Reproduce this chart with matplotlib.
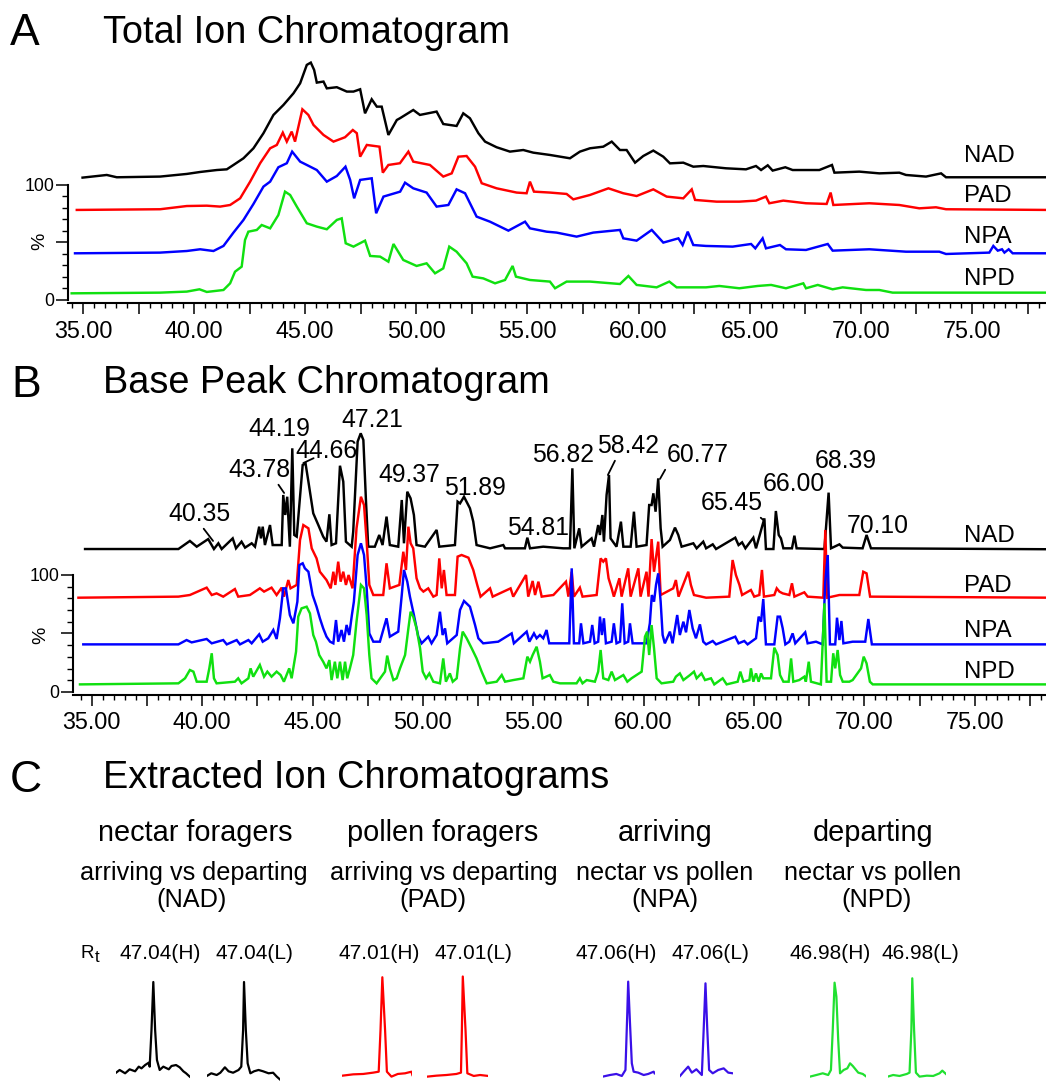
import matplotlib
matplotlib.use('Agg')
import matplotlib.pyplot as plt
from matplotlib.ticker import MultipleLocator, FixedLocator, FuncFormatter

plt.rcParams['font.family'] = ['Liberation Sans', 'DejaVu Sans']

W, H = 1046, 1085
fig = plt.figure(figsize=(W / 100, H / 100), dpi=100)


def fx(x):
    return x / W


def fy(y):
    return 1 - y / H


# ---------------- DATA ----------------
series_names = ['NAD', 'PAD', 'NPA', 'NPD']
x_tick_labels = ['35.00', '40.00', '45.00', '50.00', '55.00', '60.00', '65.00', '70.00', '75.00']

# Total ion chromatogram (time [min], relative intensity incl. stacking offset [%])
tic_nad = [(34.98, 106.4), (36.07, 108.7), (36.52, 106.7), (38.47, 107.3), (39.67, 109.6), (40.27, 111.3),
           (41.02, 113.0), (41.47, 113.6), (41.77, 117.4), (42.22, 123.2), (42.67, 131.9), (43.12, 145.0),
           (43.57, 160.9), (44.02, 169.6), (44.47, 179.7), (44.77, 188.4), (45.07, 204.4), (45.25, 206.4),
           (45.40, 200.0), (45.52, 189.0), (45.82, 189.9), (45.97, 184.0), (46.42, 185.0), (46.87, 181.2),
           (47.17, 181.2), (47.47, 183.2), (47.69, 162.3), (47.99, 174.5), (48.22, 168.1), (48.44, 168.1),
           (48.74, 143.5), (49.12, 156.5), (49.26, 158.0), (49.86, 165.2), (50.16, 160.9), (50.91, 163.8),
           (51.21, 153.0), (51.81, 151.3), (52.11, 162.3), (52.41, 158.0), (52.79, 145.0), (53.09, 137.7),
           (53.61, 132.8), (54.21, 129.0), (54.81, 130.4), (55.26, 128.1), (56.01, 126.1), (56.91, 123.2),
           (57.36, 129.0), (57.81, 131.9), (58.41, 133.3), (58.79, 137.7), (59.16, 130.4), (59.46, 130.4),
           (59.84, 119.4), (60.21, 125.2), (60.66, 129.9), (61.11, 124.6), (61.41, 118.8), (62.01, 119.4),
           (62.46, 115.9), (62.91, 116.5), (63.93, 114.5), (64.83, 113.6), (65.28, 116.5), (65.51, 113.0),
           (65.81, 117.1), (66.03, 112.5), (66.60, 115.4), (66.93, 113.0), (68.13, 113.0), (68.70, 117.4),
           (68.81, 110.7), (69.93, 111.6), (70.83, 110.1), (71.73, 110.7), (72.03, 108.7), (72.93, 107.3),
           (73.61, 110.1), (73.83, 106.7), (78.40, 106.7)]
tic_pad = [(34.72, 78.3), (38.47, 78.9), (39.67, 81.7), (40.57, 82.0), (41.17, 81.2), (41.62, 82.6),
           (42.07, 88.4), (42.52, 102.9), (42.97, 118.9), (43.42, 131.9), (43.72, 134.8), (43.99, 145.5),
           (44.17, 137.7), (44.39, 146.4), (44.54, 137.7), (44.87, 165.8), (45.14, 160.9), (45.37, 152.2),
           (45.82, 143.5), (46.27, 137.7), (46.79, 141.5), (47.14, 147.8), (47.32, 145.0), (47.47, 124.6),
           (47.77, 134.8), (48.34, 133.3), (48.49, 110.7), (48.74, 117.4), (49.26, 118.9), (49.64, 129.0),
           (49.86, 120.3), (50.61, 117.4), (51.21, 107.3), (51.59, 110.1), (51.89, 124.6), (52.26, 125.2),
           (52.64, 115.9), (52.94, 101.5), (53.61, 97.1), (54.51, 93.4), (54.96, 92.8), (55.11, 102.9),
           (55.29, 94.2), (56.01, 93.4), (56.76, 92.2), (57.06, 87.5), (57.81, 91.3), (58.64, 97.1),
           (59.31, 92.8), (59.91, 90.4), (60.66, 96.2), (61.26, 89.9), (62.01, 88.4), (62.39, 96.2),
           (62.54, 87.0), (63.51, 85.5), (64.53, 85.5), (65.28, 86.4), (65.73, 89.9), (65.88, 84.1),
           (66.51, 86.4), (67.53, 84.1), (68.46, 83.5), (68.64, 93.4), (68.76, 82.6), (70.38, 84.1),
           (71.73, 82.6), (72.63, 79.7), (73.38, 80.6), (73.83, 78.9), (78.40, 78.3)]
tic_npa = [(34.64, 40.6), (38.47, 41.2), (39.67, 42.6), (40.27, 44.1), (40.87, 42.6), (41.32, 47.0),
           (41.77, 58.6), (42.22, 69.6), (42.67, 83.5), (43.12, 98.6), (43.42, 102.9), (43.79, 115.4),
           (44.17, 118.9), (44.41, 129.0), (44.77, 120.3), (45.07, 117.4), (45.52, 113.0), (45.97, 102.9),
           (46.42, 107.8), (46.81, 115.9), (47.02, 104.4), (47.20, 88.4), (47.47, 104.4), (47.99, 105.8),
           (48.19, 75.4), (48.52, 89.9), (49.27, 94.2), (49.49, 102.0), (49.86, 97.1), (50.46, 93.4),
           (50.91, 81.2), (51.44, 82.6), (51.81, 96.2), (52.19, 92.8), (52.71, 72.5), (53.31, 68.1),
           (54.14, 60.3), (54.89, 68.1), (55.11, 62.3), (55.86, 59.4), (56.31, 58.6), (57.21, 55.1),
           (57.96, 58.6), (59.16, 60.9), (59.31, 53.6), (59.91, 51.6), (60.59, 60.9), (61.11, 49.9),
           (61.79, 53.6), (61.98, 47.8), (62.21, 59.4), (62.46, 47.8), (63.03, 47.0), (64.23, 46.4),
           (65.06, 48.7), (65.25, 44.9), (65.58, 53.6), (65.73, 44.9), (66.36, 47.8), (66.63, 44.1),
           (67.53, 43.5), (68.51, 48.7), (68.73, 42.9), (70.38, 44.1), (72.03, 42.0), (73.53, 42.0),
           (73.83, 40.0), (75.78, 41.2), (75.96, 47.0), (76.16, 42.9), (76.35, 44.1), (76.46, 41.2),
           (76.65, 44.1), (76.83, 40.6), (78.40, 40.6)]
tic_npd = [(34.49, 5.8), (38.47, 6.4), (39.67, 7.3), (40.24, 9.3), (40.57, 7.0), (41.32, 8.7),
           (41.62, 14.5), (41.84, 24.6), (42.14, 29.0), (42.29, 52.2), (42.44, 59.4), (42.82, 60.9),
           (43.04, 65.2), (43.42, 62.3), (43.79, 73.9), (44.09, 94.2), (44.32, 91.3), (44.62, 81.2),
           (45.07, 66.7), (45.52, 63.8), (45.97, 61.5), (46.42, 69.6), (46.64, 71.0), (46.82, 49.3),
           (47.17, 46.4), (47.69, 51.6), (47.92, 38.3), (48.37, 37.7), (48.74, 33.3), (48.97, 48.7),
           (49.41, 34.8), (50.01, 29.6), (50.46, 31.9), (50.84, 23.2), (51.21, 27.5), (51.48, 46.4),
           (51.81, 42.0), (52.26, 31.9), (52.53, 20.3), (53.01, 18.8), (53.54, 14.5), (53.99, 17.4),
           (54.33, 29.6), (54.48, 20.3), (55.11, 17.4), (56.01, 16.0), (56.24, 10.2), (56.76, 16.0),
           (57.81, 16.0), (59.16, 13.9), (59.54, 20.9), (59.91, 13.1), (60.81, 11.0), (61.38, 16.0),
           (61.71, 11.0), (63.03, 11.0), (63.63, 12.2), (64.53, 10.2), (65.36, 12.2), (65.96, 13.1),
           (66.63, 10.2), (67.41, 14.5), (67.53, 10.2), (68.06, 13.1), (68.73, 9.3), (69.18, 11.0),
           (70.23, 8.7), (70.83, 8.7), (71.43, 6.4), (78.40, 6.4)]

# Base peak chromatogram
bpc_nad = [(34.69, 122.2), (38.92, 122.2), (39.44, 129.1), (39.75, 124.2), (40.27, 130.7), (40.53, 122.2),
           (40.73, 127.1), (40.88, 122.2), (41.38, 131.3), (41.53, 122.8), (41.78, 128.5), (41.94, 123.4),
           (42.24, 127.1), (42.39, 124.2), (42.58, 141.3), (42.66, 131.3), (42.74, 141.3), (42.84, 125.6),
           (43.07, 142.7), (43.19, 125.6), (43.60, 125.6), (43.67, 168.4), (43.76, 151.3), (43.85, 166.9),
           (43.97, 124.2), (44.08, 208.3), (44.17, 134.2), (44.28, 132.8), (44.55, 194.0), (44.68, 195.4),
           (44.81, 179.8), (45.03, 152.7), (45.26, 142.7), (45.48, 132.8), (45.63, 128.5), (45.76, 151.9),
           (45.86, 125.6), (46.06, 127.1), (46.24, 193.4), (46.39, 179.8), (46.51, 128.5), (46.77, 124.2),
           (46.84, 137.0), (47.04, 214.0), (47.18, 221.1), (47.30, 215.4), (47.42, 162.7), (47.52, 124.2),
           (47.82, 124.2), (48.02, 134.2), (48.17, 125.6), (48.35, 149.9), (48.50, 125.6), (48.88, 124.2),
           (49.04, 164.1), (49.14, 127.1), (49.29, 171.2), (49.44, 165.5), (49.59, 151.3), (49.71, 125.6),
           (50.09, 124.2), (50.62, 138.5), (50.74, 124.2), (51.45, 125.6), (51.57, 162.7), (51.68, 161.2),
           (51.86, 166.9), (52.13, 157.0), (52.28, 145.6), (52.43, 125.6), (53.04, 122.8), (53.64, 125.6),
           (53.72, 122.8), (54.62, 122.8), (54.73, 131.9), (54.85, 122.8), (55.45, 124.2), (56.36, 122.8),
           (56.66, 122.8), (56.77, 191.2), (56.86, 122.8), (57.08, 139.9), (57.19, 124.2), (57.64, 131.3),
           (57.75, 124.2), (57.94, 142.7), (58.02, 134.2), (58.13, 151.3), (58.20, 128.5), (58.32, 168.4),
           (58.43, 185.5), (58.50, 131.3), (58.77, 124.2), (58.97, 145.6), (59.08, 124.2), (59.41, 124.2),
           (59.56, 154.1), (59.68, 124.2), (60.13, 125.6), (60.25, 159.8), (60.36, 159.8), (60.44, 169.8),
           (60.54, 154.1), (60.66, 182.6), (60.77, 139.9), (60.86, 124.2), (61.19, 129.9), (61.42, 140.5),
           (61.57, 134.2), (61.72, 124.2), (62.25, 127.1), (62.40, 122.8), (62.70, 128.5), (62.83, 122.8),
           (63.13, 126.2), (63.28, 122.2), (64.15, 131.9), (64.30, 125.6), (64.46, 127.9), (64.61, 122.8),
           (64.97, 131.9), (65.09, 122.8), (65.47, 148.4), (65.54, 122.2), (65.88, 122.2), (65.99, 154.7),
           (66.12, 134.2), (66.22, 131.3), (66.33, 122.8), (66.72, 122.8), (66.83, 133.6), (66.93, 122.8),
           (68.19, 122.2), (68.38, 170.4), (68.49, 122.8), (68.87, 126.2), (69.02, 123.4), (69.92, 122.8),
           (70.10, 134.2), (70.30, 122.8), (78.50, 122.0)]
bpc_pad = [(34.39, 80.6), (38.92, 81.5), (39.44, 82.9), (40.20, 89.2), (40.43, 82.9), (40.65, 84.3),
           (40.95, 81.5), (41.48, 88.0), (41.63, 81.5), (42.16, 82.9), (42.61, 88.6), (42.80, 85.8),
           (43.14, 89.2), (43.37, 82.9), (43.60, 89.2), (43.70, 81.5), (43.90, 95.7), (44.00, 88.6),
           (44.28, 91.5), (44.43, 129.9), (44.58, 142.7), (44.81, 139.9), (44.96, 122.8), (45.18, 114.2),
           (45.33, 102.8), (45.63, 95.7), (45.82, 88.6), (45.94, 102.8), (46.03, 91.5), (46.16, 111.4),
           (46.27, 94.3), (46.39, 102.8), (46.51, 91.5), (46.63, 100.0), (46.81, 88.6), (46.99, 139.9),
           (47.19, 166.9), (47.33, 159.8), (47.45, 128.5), (47.57, 91.5), (47.75, 82.9), (48.20, 82.9),
           (48.35, 110.0), (48.50, 88.6), (48.93, 91.5), (49.11, 119.9), (49.23, 104.3), (49.34, 141.3),
           (49.44, 127.1), (49.56, 122.8), (49.71, 97.2), (49.87, 88.6), (50.02, 85.8), (50.24, 88.6),
           (50.47, 81.5), (50.62, 82.9), (50.74, 114.2), (50.85, 88.6), (50.95, 104.3), (51.07, 82.9),
           (51.45, 82.9), (51.57, 115.7), (51.75, 117.1), (52.06, 114.8), (52.28, 104.3), (52.46, 91.5),
           (52.61, 81.5), (53.04, 88.6), (53.16, 81.5), (53.97, 88.6), (54.09, 81.5), (54.67, 100.0),
           (54.77, 81.5), (54.97, 94.9), (55.08, 82.9), (55.23, 94.3), (55.38, 81.5), (55.91, 82.9),
           (56.48, 94.3), (56.59, 81.5), (56.74, 102.8), (56.84, 81.5), (57.11, 89.2), (57.23, 81.5),
           (57.87, 82.9), (58.05, 114.2), (58.17, 111.4), (58.29, 114.2), (58.41, 97.2), (58.55, 88.6),
           (58.65, 81.5), (58.90, 97.2), (59.00, 81.5), (59.30, 105.7), (59.41, 81.5), (59.76, 105.7),
           (59.86, 81.5), (60.13, 102.8), (60.22, 81.5), (60.36, 130.7), (60.47, 102.8), (60.66, 128.5),
           (60.77, 82.9), (61.34, 88.6), (61.46, 95.7), (61.58, 81.5), (62.02, 102.8), (62.14, 91.5),
           (62.28, 82.9), (62.83, 80.6), (63.88, 81.5), (64.03, 112.8), (64.18, 100.0), (64.34, 91.5),
           (64.46, 82.9), (64.86, 87.2), (65.01, 81.5), (65.24, 82.9), (65.36, 104.3), (65.45, 81.5),
           (65.92, 82.9), (66.03, 88.6), (66.15, 85.8), (66.30, 84.3), (66.60, 82.9), (66.72, 92.9),
           (66.83, 81.5), (67.28, 85.2), (67.43, 81.5), (68.14, 80.6), (68.23, 138.5), (68.32, 80.6),
           (68.87, 82.9), (69.77, 82.9), (69.95, 102.8), (70.10, 101.4), (70.26, 81.5), (78.50, 80.6)]
bpc_npa = [(34.61, 40.7), (38.92, 40.7), (39.29, 44.4), (39.52, 42.4), (40.20, 45.3), (40.43, 41.6),
           (40.95, 44.4), (41.11, 40.7), (41.56, 44.4), (41.71, 40.7), (42.09, 44.4), (42.24, 41.6),
           (42.58, 49.3), (42.74, 43.0), (42.99, 45.9), (43.22, 53.0), (43.37, 45.3), (43.52, 63.0),
           (43.67, 88.6), (43.79, 88.6), (43.97, 65.8), (44.13, 58.7), (44.31, 77.2), (44.40, 108.5),
           (44.55, 110.0), (44.65, 105.7), (44.81, 102.8), (45.00, 82.9), (45.18, 72.9), (45.33, 63.0),
           (45.48, 54.4), (45.63, 47.3), (45.79, 43.0), (45.94, 41.6), (46.06, 61.5), (46.16, 43.0),
           (46.31, 53.0), (46.42, 43.0), (46.54, 57.3), (46.66, 48.7), (46.78, 65.8), (46.87, 77.2),
           (47.04, 117.1), (47.19, 127.1), (47.33, 117.1), (47.45, 88.6), (47.57, 50.1), (47.75, 43.0),
           (48.05, 43.0), (48.35, 63.0), (48.50, 47.3), (48.88, 51.6), (49.04, 82.9), (49.14, 104.3),
           (49.29, 94.3), (49.41, 81.5), (49.59, 65.8), (49.79, 47.3), (49.94, 41.6), (50.24, 47.3),
           (50.39, 41.6), (50.62, 48.7), (50.77, 68.6), (50.89, 48.7), (51.00, 54.4), (51.10, 41.6),
           (51.53, 48.7), (51.68, 70.1), (51.86, 77.8), (52.13, 72.9), (52.36, 57.3), (52.51, 45.9),
           (52.73, 41.6), (53.41, 43.0), (54.02, 50.1), (54.12, 41.6), (54.70, 51.6), (54.82, 43.0),
           (55.03, 50.1), (55.15, 45.9), (55.30, 48.7), (55.45, 45.9), (55.60, 53.0), (55.72, 41.6),
           (56.63, 41.6), (56.74, 105.7), (56.84, 41.6), (57.08, 41.6), (57.16, 58.7), (57.27, 41.6),
           (57.57, 43.0), (57.67, 57.3), (57.78, 41.6), (57.94, 43.0), (58.02, 64.4), (58.11, 48.7),
           (58.20, 63.0), (58.29, 41.6), (58.55, 43.0), (58.65, 58.7), (58.77, 41.6), (58.93, 43.0),
           (59.03, 75.8), (59.14, 41.6), (59.30, 43.0), (59.38, 58.7), (59.50, 41.6), (60.13, 41.6),
           (60.28, 58.7), (60.37, 82.9), (60.47, 77.2), (60.56, 91.5), (60.66, 101.4), (60.77, 77.2),
           (60.86, 48.7), (60.96, 41.6), (61.19, 51.6), (61.31, 41.6), (61.52, 65.8), (61.64, 48.7),
           (61.80, 60.1), (61.92, 51.0), (62.07, 70.1), (62.22, 54.4), (62.37, 45.9), (62.55, 57.8),
           (62.70, 43.0), (62.83, 40.7), (63.13, 43.6), (63.28, 40.7), (64.15, 47.3), (64.30, 41.6),
           (64.56, 43.6), (64.71, 40.7), (65.09, 45.9), (65.21, 64.4), (65.32, 60.1), (65.42, 79.5),
           (65.54, 40.7), (65.92, 40.7), (66.07, 64.4), (66.18, 64.4), (66.30, 54.4), (66.42, 40.7),
           (66.60, 43.0), (66.75, 50.1), (66.87, 41.6), (67.32, 51.0), (67.43, 41.6), (67.81, 43.0),
           (68.11, 40.7), (68.23, 94.3), (68.34, 117.1), (68.44, 40.7), (68.68, 40.7), (68.76, 63.5),
           (68.87, 44.4), (68.96, 60.7), (69.05, 41.6), (69.47, 43.0), (70.04, 43.0), (70.18, 62.4),
           (70.34, 40.7), (78.50, 40.7)]
bpc_npd = [(34.46, 6.5), (38.92, 7.4), (39.22, 11.7), (39.44, 18.8), (39.60, 17.4), (39.75, 8.8),
           (40.20, 8.8), (40.32, 20.2), (40.43, 33.1), (40.53, 11.7), (40.65, 7.4), (41.48, 8.8),
           (41.63, 11.7), (41.78, 7.4), (42.09, 11.7), (42.19, 20.2), (42.31, 13.1), (42.61, 23.1),
           (42.80, 13.1), (42.95, 17.4), (43.14, 13.1), (43.37, 17.4), (43.55, 14.5), (43.70, 8.8),
           (43.94, 20.2), (44.05, 11.7), (44.25, 34.5), (44.35, 64.4), (44.50, 71.5), (44.73, 72.9),
           (44.88, 67.2), (45.03, 48.7), (45.15, 43.0), (45.30, 31.6), (45.48, 25.9), (45.63, 20.2),
           (45.76, 27.3), (45.86, 10.2), (46.01, 25.9), (46.12, 11.7), (46.24, 25.9), (46.36, 10.2),
           (46.47, 25.9), (46.57, 11.7), (46.69, 20.2), (46.84, 31.6), (46.99, 60.1), (47.19, 91.5),
           (47.33, 88.6), (47.45, 65.8), (47.57, 31.6), (47.67, 11.7), (47.90, 7.4), (48.28, 17.4),
           (48.38, 31.1), (48.50, 20.2), (48.66, 10.2), (48.81, 11.7), (48.96, 20.2), (49.19, 31.6),
           (49.34, 54.4), (49.44, 68.6), (49.56, 64.4), (49.71, 54.4), (49.87, 37.3), (49.99, 17.4),
           (50.14, 11.7), (50.29, 15.9), (50.47, 8.8), (50.77, 7.4), (50.92, 28.7), (51.04, 8.8),
           (51.22, 15.9), (51.35, 8.8), (51.53, 11.7), (51.68, 37.3), (51.80, 51.6), (51.98, 45.9),
           (52.21, 37.3), (52.43, 28.7), (52.66, 17.4), (52.89, 7.4), (53.34, 8.8), (53.57, 14.5),
           (53.72, 8.8), (54.09, 10.2), (54.55, 11.7), (54.73, 30.2), (54.85, 25.9), (54.97, 31.6),
           (55.15, 38.7), (55.30, 25.9), (55.42, 11.7), (55.75, 14.5), (55.91, 8.8), (56.21, 7.4),
           (56.96, 7.4), (57.11, 11.7), (57.23, 7.4), (57.42, 10.2), (57.79, 8.8), (57.94, 17.4),
           (58.05, 35.9), (58.17, 11.7), (58.40, 10.2), (58.55, 17.4), (58.70, 10.2), (59.08, 14.5),
           (59.26, 8.8), (59.45, 11.7), (59.91, 17.4), (60.06, 47.3), (60.16, 51.6), (60.25, 31.6),
           (60.36, 57.2), (60.47, 37.3), (60.59, 11.7), (60.81, 7.4), (61.34, 8.8), (61.46, 13.1),
           (61.64, 15.9), (61.80, 10.2), (62.10, 14.5), (62.28, 17.4), (62.40, 11.7), (62.62, 15.9),
           (62.78, 10.2), (63.05, 11.7), (63.20, 6.5), (63.58, 11.7), (63.76, 6.5), (64.26, 8.8),
           (64.38, 17.4), (64.52, 8.8), (64.79, 10.2), (64.86, 20.2), (64.97, 8.8), (65.09, 15.9),
           (65.21, 8.8), (65.32, 15.9), (65.42, 11.7), (65.77, 11.7), (65.92, 37.9), (66.07, 31.6),
           (66.18, 14.5), (66.33, 8.8), (66.57, 8.8), (66.68, 28.7), (66.78, 8.8), (67.05, 10.2),
           (67.28, 13.1), (67.35, 8.8), (67.48, 25.9), (67.58, 8.8), (68.03, 6.5), (68.19, 75.8),
           (68.29, 8.8), (68.49, 8.8), (68.59, 33.1), (68.68, 20.2), (68.79, 35.9), (68.90, 14.5),
           (69.02, 8.8), (69.32, 8.8), (69.47, 10.2), (69.85, 20.2), (69.97, 30.2), (70.10, 24.5),
           (70.25, 8.8), (70.38, 6.5), (78.50, 6.5)]

# Labelled base peaks
bpc_peak_labels = ['40.35', '43.78', '44.19', '44.66', '47.21', '49.37', '51.89', '54.81',
                   '56.82', '58.42', '60.77', '65.45', '66.00', '68.39', '70.10']

# Extracted ion chromatograms: headings, retention times and (time, relative intensity)
xic_groups = ['nectar foragers', 'pollen foragers', 'arriving', 'departing']
xic_compare = ['arriving vs departing', 'arriving vs departing', 'nectar vs pollen', 'nectar vs pollen']
xic_codes = ['(NAD)', '(PAD)', '(NPA)', '(NPD)']
xic_rt_labels = ['47.04(H)', '47.04(L)', '47.01(H)', '47.01(L)', '47.06(H)', '47.06(L)', '46.98(H)', '46.98(L)']

xic_nad_h = [(46.63, 4.5), (46.67, 7.4), (46.73, 3.9), (46.78, 8.1), (46.84, 6.0), (46.88, 10.9), (46.91, 9.1),
             (46.95, 12.6), (46.99, 15.1), (47.00, 10.9), (47.02, 49.5), (47.04, 100.0), (47.06, 49.5),
             (47.08, 17.9), (47.11, 7.4), (47.15, 10.9), (47.21, 8.1), (47.24, 11.6), (47.29, 12.6),
             (47.33, 10.2), (47.37, 6.0), (47.40, 3.9), (47.44, 0.4)]
xic_nad_l = [(46.63, 1.0), (46.68, 3.9), (46.74, 2.1), (46.78, 4.5), (46.83, 10.2), (46.87, 6.0), (46.92, 4.5),
             (46.98, 7.4), (47.01, 10.9), (47.03, 49.5), (47.04, 100.0), (47.06, 49.5), (47.08, 14.4),
             (47.11, 3.9), (47.15, 6.0), (47.20, 7.4), (47.25, 6.0), (47.31, 3.9), (47.36, 4.5),
             (47.40, 0.4), (47.44, -3.0)]
xic_pad_h = [(46.57, 1.4), (46.69, 2.8), (46.80, 3.2), (46.91, 4.6), (46.97, 5.6), (46.99, 49.5), (47.01, 105.0),
             (47.04, 49.5), (47.06, 5.6), (47.11, 0.4), (47.18, 3.2), (47.26, 3.9), (47.33, 5.6), (47.34, 2.1)]
xic_pad_l = [(46.62, 0.4), (46.72, 1.4), (46.83, 2.1), (46.94, 3.2), (46.99, 4.6), (47.00, 49.5), (47.01, 105.8),
             (47.04, 49.5), (47.06, 3.9), (47.13, 1.1), (47.20, 2.1), (47.29, 1.1)]
xic_npa_h = [(46.78, 0.4), (46.86, 2.1), (46.93, 3.2), (46.99, 1.1), (47.03, 7.4), (47.05, 67.0), (47.06, 100.4),
             (47.08, 56.5), (47.10, 14.4), (47.12, 5.6), (47.17, 4.6), (47.23, 2.1), (47.28, 3.2),
             (47.34, 5.6), (47.35, 3.9)]
xic_npa_l = [(46.78, 1.1), (46.82, 5.6), (46.87, 10.9), (46.91, 4.6), (46.96, 8.1), (47.02, 2.1), (47.04, 49.5),
             (47.06, 98.6), (47.08, 49.5), (47.10, 7.4), (47.14, 3.9), (47.20, 7.4), (47.26, 9.1),
             (47.31, 4.6), (47.36, 3.9)]
xic_npd_h = [(46.71, 0.4), (46.78, 2.1), (46.85, 3.9), (46.91, 2.1), (46.94, 7.4), (46.96, 49.5), (46.98, 99.3),
             (47.00, 84.6), (47.02, 39.0), (47.04, 3.9), (47.08, 7.4), (47.12, 9.1), (47.15, 14.4),
             (47.18, 11.6), (47.24, 4.6), (47.29, 3.2), (47.33, 0.4)]
xic_npd_l = [(46.71, 0.4), (46.77, 2.1), (46.84, 1.1), (46.92, 3.2), (46.95, 4.6), (46.97, 49.5), (46.98, 103.9),
             (47.00, 49.5), (47.02, 4.6), (47.06, 0.4), (47.14, 1.4), (47.21, 1.1), (47.28, 3.9),
             (47.31, 6.7), (47.35, 3.2)]

# ---------------- STYLE ----------------
colors = {'NAD': '#000000', 'PAD': '#ff0000', 'NPA': '#0000ff', 'NPD': '#10e010'}
xic_colors = ['#000000', '#ff0000', '#3a10e8', '#20e030']
LW = 1.75


def unzip(pairs):
    return [p[0] for p in pairs], [p[1] for p in pairs]


def fmt_x(v, pos):
    if abs(v / 5 - round(v / 5)) < 1e-6:
        lab = f'{v:.2f}'
        return lab if lab in x_tick_labels else ''
    return ''


def style_chrom_axis(ax, xlim, ylim):
    ax.set_xlim(*xlim)
    ax.set_ylim(*ylim)
    ax.patch.set_visible(False)
    for s in ['top', 'right']:
        ax.spines[s].set_visible(False)
    ax.spines['left'].set_bounds(0, 100)
    ax.spines['left'].set_linewidth(1.5)
    ax.spines['bottom'].set_linewidth(1.5)
    ax.xaxis.set_major_locator(MultipleLocator(2.5))
    ax.xaxis.set_minor_locator(MultipleLocator(0.5))
    ax.xaxis.set_major_formatter(FuncFormatter(fmt_x))
    ax.yaxis.set_major_locator(FixedLocator([0, 50, 100]))
    ax.yaxis.set_minor_locator(FixedLocator([10, 20, 30, 40, 60, 70, 80, 90]))
    ax.yaxis.set_major_formatter(FuncFormatter(lambda v, p: {0: '0', 100: '100'}.get(int(round(v)), '')))
    ax.tick_params(axis='x', which='major', length=8, width=1.1, labelsize=16.8, pad=4)
    ax.tick_params(axis='x', which='minor', length=3.8, width=1.0)
    ax.tick_params(axis='y', which='major', length=8.5, width=1.1, labelsize=12.8, pad=1.5)
    ax.tick_params(axis='y', which='minor', length=4.3, width=1.0)


# ---------------- PANEL A ----------------
axA = fig.add_axes([fx(68), fy(303), 1 - fx(68), (303 - 55) / H])
for name, data in zip(series_names, [tic_nad, tic_pad, tic_npa, tic_npd]):
    t, v = unzip(data)
    axA.plot(t, v, color=colors[name], lw=LW, solid_joinstyle='miter')
style_chrom_axis(axA, (34.325, 78.33), (-2.61, 213.0))

# ---------------- PANEL B ----------------
axB = fig.add_axes([fx(73), fy(694.5), 1 - fx(73), (694.5 - 400) / H])
for name, data in zip(series_names, [bpc_nad, bpc_pad, bpc_npa, bpc_npd]):
    t, v = unzip(data)
    axB.plot(t, v, color=colors[name], lw=LW, solid_joinstyle='miter')
style_chrom_axis(axB, (34.144, 78.23), (-2.14, 249.57))

# annotation layout for the labelled peaks: text position (t, baseline) and optional leader
ann_text_pos = [(39.86, 146.2), (42.57, 183.8), (43.48, 218.8), (45.61, 200.0), (47.69, 226.5),
                (49.37, 179.5), (52.36, 168.4), (55.21, 134.2), (56.35, 196.6), (59.29, 204.3),
                (62.46, 196.6), (63.99, 155.6), (66.80, 171.8), (69.16, 191.5), (70.61, 135.9)]
ann_leaders = {'40.35': ((40.49, 129.1), 0.48), '43.78': ((43.71, 170.1), 0.73),
               '44.66': ((44.58, 195.7), 0.30), '58.42': ((58.38, 185.5), 0.35),
               '60.77': ((60.74, 182.1), 0.04), '65.45': ((65.47, 146.2), 0.83)}
for lab, (tx, ty) in zip(bpc_peak_labels, ann_text_pos):
    if lab in ann_leaders:
        (ex, ey), rx = ann_leaders[lab]
        axB.annotate(lab, xy=(ex, ey), xytext=(tx, ty), ha='center', va='baseline', fontsize=17.8,
                     annotation_clip=False,
                     arrowprops=dict(arrowstyle='-', lw=1.3, color='black', shrinkA=0, shrinkB=0,
                                     relpos=(rx, 0.2)))
    else:
        axB.text(tx, ty, lab, ha='center', va='baseline', fontsize=17.8)

# trace labels & axis titles
trace_lab_A = [162, 202, 243, 285]
trace_lab_B = [542, 592, 637, 678]
for name, ya, yb in zip(series_names, trace_lab_A, trace_lab_B):
    fig.text(fx(964), fy(ya), name, fontsize=17.3, ha='left', va='baseline')
    fig.text(fx(964), fy(yb), name, fontsize=17.3, ha='left', va='baseline')
fig.text(fx(40), fy(241), '%', rotation=90, fontsize=14, ha='center', va='center')
fig.text(fx(41), fy(635), '%', rotation=90, fontsize=14, ha='center', va='center')

fig.text(fx(10), fy(45), 'A', fontsize=32, ha='left', va='baseline')
fig.text(fx(103), fy(43), 'Total Ion Chromatogram', fontsize=27.3, ha='left', va='baseline')
fig.text(fx(11), fy(397), 'B', fontsize=32, ha='left', va='baseline')
fig.text(fx(103), fy(393), 'Base Peak Chromatogram', fontsize=27.3, ha='left', va='baseline')
fig.text(fx(10), fy(792), 'C', fontsize=32, ha='left', va='baseline')
fig.text(fx(103), fy(788), 'Extracted Ion Chromatograms', fontsize=27.3, ha='left', va='baseline')

# ---------------- PANEL C ----------------
grp_x1 = [195, 443, 665, 873]
grp_x2 = [194, 444, 665, 873]
grp_x3 = [192, 433, 665, 877]
for g, c, k, a, b, d in zip(xic_groups, xic_compare, xic_codes, grp_x1, grp_x2, grp_x3):
    fig.text(fx(a), fy(841), g, fontsize=20.8, ha='center', va='baseline')
    fig.text(fx(b), fy(880), c, fontsize=18.2, ha='center', va='baseline')
    fig.text(fx(d), fy(907), k, fontsize=18.2, ha='center', va='baseline')

fig.text(fx(80), fy(958), 'R', fontsize=13.5, ha='left', va='baseline')
fig.text(fx(94.5), fy(962), 't', fontsize=12, ha='left', va='baseline')
rt_x = [160, 254, 379, 473, 616, 710, 830, 920]
for lab, x in zip(xic_rt_labels, rt_x):
    fig.text(fx(x), fy(959), lab, fontsize=15, ha='center', va='baseline')

xic_data = [xic_nad_h, xic_nad_l, xic_pad_h, xic_pad_l, xic_npa_h, xic_npa_l, xic_npd_h, xic_npd_l]
xic_left = [116, 206.7, 342.3, 427.3, 602.7, 680, 810, 887.7]
PX_PER_MIN = 91.0
for i, (data, left) in enumerate(zip(xic_data, xic_left)):
    t, v = unzip(data)
    width = (max(t) - min(t)) * PX_PER_MIN
    ax = fig.add_axes([fx(left), fy(1085), width / W, (1085 - 965) / H])
    ax.plot(t, v, color=xic_colors[i // 2], lw=1.6)
    ax.set_xlim(min(t), max(t))
    ax.set_ylim(-8.42, 117.9)
    ax.axis('off')

fig.savefig('out.png', dpi=100)
